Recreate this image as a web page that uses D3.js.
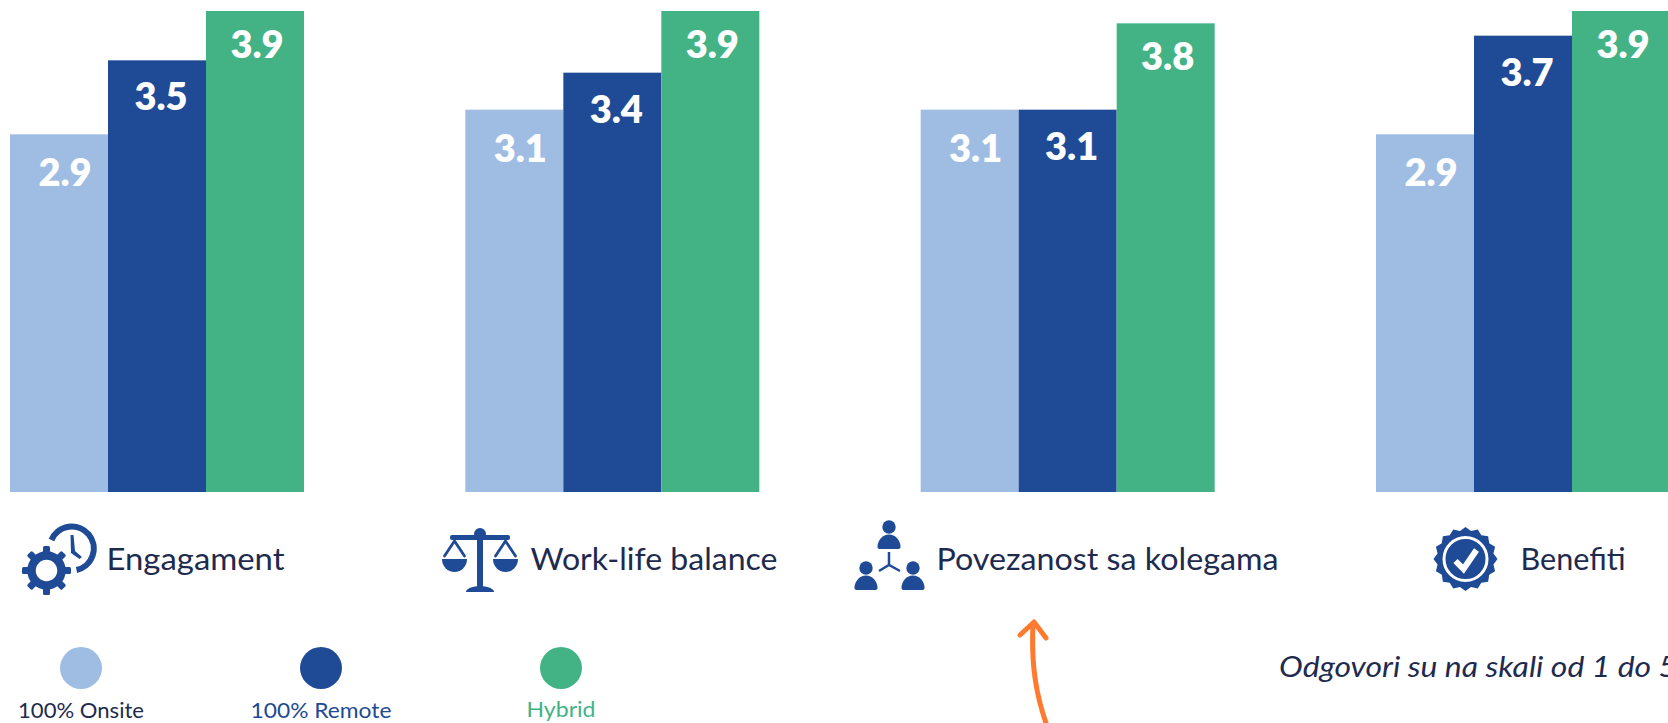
<!DOCTYPE html>
<html><head><meta charset="utf-8">
<script src="https://cdnjs.cloudflare.com/ajax/libs/d3/7.8.5/d3.min.js"></script>
<style>html,body{margin:0;padding:0;background:#fff;overflow:hidden}svg{display:block}text{font-family:Lato,"Open Sans",sans-serif}</style>
</head><body><svg id="c" width="1668" height="723"></svg>
<script>
const categories = ["Engagament","Work-life balance","Povezanost sa kolegama","Benefiti"];
const seriesNames = ["100% Onsite","100% Remote","Hybrid"];
const onsite = [2.9,3.1,3.1,2.9];
const remote = [3.5,3.4,3.1,3.7];
const hybrid = [3.9,3.9,3.8,3.9];
const seriesValues = [onsite,remote,hybrid];
const seriesColors = ["#9fbde3","#1f4a96","#43b386"];
const legendTextColors = ["#1e2b4f","#1f4a96","#43b386"];
const note = "Odgovori su na skali od 1 do 5";

const svg = d3.select("#c");
const x0 = d3.scaleBand().domain(categories).range([10,1670]).paddingInner(0.3543).paddingOuter(0).align(0);
const x1 = d3.scaleBand().domain(seriesNames).range([0,x0.bandwidth()]);
const y = d3.scaleLinear().domain([0,3.9]).range([492,11]);
const labelDx = [6,4,2], labelDy = [52,50,47];

seriesNames.forEach((s,si)=>{
  const g = svg.append("g");
  g.selectAll("rect").data(seriesValues[si]).join("rect")
    .attr("x",(d,i)=>x0(categories[i])+x1(s))
    .attr("y",d=>y(d)).attr("width",x1.bandwidth()).attr("height",d=>y(0)-y(d))
    .attr("fill",seriesColors[si]);
  g.selectAll("text").data(seriesValues[si]).join("text")
    .attr("x",(d,i)=>x0(categories[i])+x1(s)+x1.bandwidth()/2+labelDx[si])
    .attr("y",d=>y(d)+labelDy[si])
    .attr("text-anchor","middle").attr("fill","#fff").attr("font-weight",800).attr("font-size",38)
    .text(d=>d.toFixed(1));
});

const labelX = [106.5,530.5,936.5,1520.5], labelLen=[178,247,342,105];
svg.append("g").selectAll("text").data(categories).join("text")
  .attr("x",(d,i)=>labelX[i]).attr("y",570).attr("font-size",30).attr("fill","#1e2b4f")
  .attr("textLength",(d,i)=>labelLen[i]).attr("lengthAdjust","spacingAndGlyphs").text(d=>d);

// legend
const legendX = d3.scalePoint().domain(seriesNames).range([81,561]);
const legendLen = [126,141,69];
const lg = svg.append("g");
lg.selectAll("circle").data(seriesNames).join("circle")
  .attr("cx",d=>legendX(d)).attr("cy",668).attr("r",21).attr("fill",(d,i)=>seriesColors[i]);
lg.selectAll("text").data(seriesNames).join("text")
  .attr("x",(d,i)=>legendX(d)-legendLen[i]/2).attr("y",(d,i)=>i==2?717:718)
  .attr("textLength",(d,i)=>legendLen[i]).attr("lengthAdjust","spacingAndGlyphs")
  .attr("font-size",22).attr("fill",(d,i)=>legendTextColors[i]).text(d=>d);

svg.append("text").attr("x",1279).attr("y",677).attr("font-size",28).attr("font-style","italic").attr("fill","#1e2b4f")
  .attr("textLength",398).attr("lengthAdjust","spacingAndGlyphs").text(note);

// arrow
const arrow = svg.append("g").attr("fill","none").attr("stroke","#ff7a2f").attr("stroke-width",5).attr("stroke-linecap","round").attr("stroke-linejoin","round");
arrow.append("path").attr("d","M1047,726C1036,695 1031,665 1033,624");
arrow.append("path").attr("d","M1020,635L1034,622L1046,638");

// icons
const ink="#1f4a96";
const ic1=svg.append("g").attr("fill",ink);
const gear=ic1.append("g").attr("transform","translate(46.5,570.5)");
gear.append("circle").attr("r",15).attr("fill","none").attr("stroke",ink).attr("stroke-width",8.5);
d3.range(8).forEach(i=>gear.append("rect").attr("x",-3.5).attr("y",-24.5).attr("width",7).attr("height",8).attr("rx",1.5).attr("transform",`rotate(${i*45})`));
ic1.append("path").attr("fill","none").attr("stroke",ink).attr("stroke-width",6)
  .attr("d","M51.5,540A22,22 0 1 1 76.5,570");
ic1.append("path").attr("d","M70.5,535L73.5,535L75,551L82,557L79.5,559L71,553Z");
const ic2=svg.append("g").attr("fill",ink);
ic2.append("rect").attr("x",450).attr("y",535).attr("width",60).attr("height",5).attr("rx",2);
ic2.append("rect").attr("x",477).attr("y",535).attr("width",6).attr("height",55);
ic2.append("circle").attr("cx",480).attr("cy",534).attr("r",6);
ic2.append("path").attr("d","M466,592a14,6 0 0 1 28,0Z");
[454.5,505.5].forEach(c=>{
  ic2.append("path").attr("d",`M${c-12.5},559h25a12.5,13 0 0 1 -25,0Z`);
  ic2.append("path").attr("fill","none").attr("stroke",ink).attr("stroke-width",2.8).attr("stroke-linecap","round").attr("d",`M${c-10},556L${c},541L${c+10},556`);
});
const ic3=svg.append("g").attr("fill",ink);
[[889,527],[866,568],[913,568]].forEach(([a,b])=>{
  ic3.append("circle").attr("cx",a).attr("cy",b).attr("r",6.7);
  ic3.append("path").attr("d",`M${a-11.5},${b+20}a11.5,12.5 0 0 1 23,0q0,2 -3,2h-17q-3,0 -3,-2Z`);
});
ic3.append("path").attr("fill","none").attr("stroke",ink).attr("stroke-width",2.5).attr("d","M889,552V565M879,571L889,565L900,571");
const ic4=svg.append("g").attr("transform","translate(1465.5,559)");
const starPts=d3.range(32).map(i=>{const r=i%2?28.5:32;const a=i*Math.PI/16;return [r*Math.sin(a),r*Math.cos(a)];});
ic4.append("polygon").attr("points",starPts.map(p=>p.join(",")).join(" ")).attr("fill",ink);
ic4.append("circle").attr("r",21.5).attr("fill","none").attr("stroke","#fff").attr("stroke-width",3);
ic4.append("path").attr("fill","none").attr("stroke","#fff").attr("stroke-width",6).attr("d","M-10,2L-2,10L11,-9");
</script></body></html>
